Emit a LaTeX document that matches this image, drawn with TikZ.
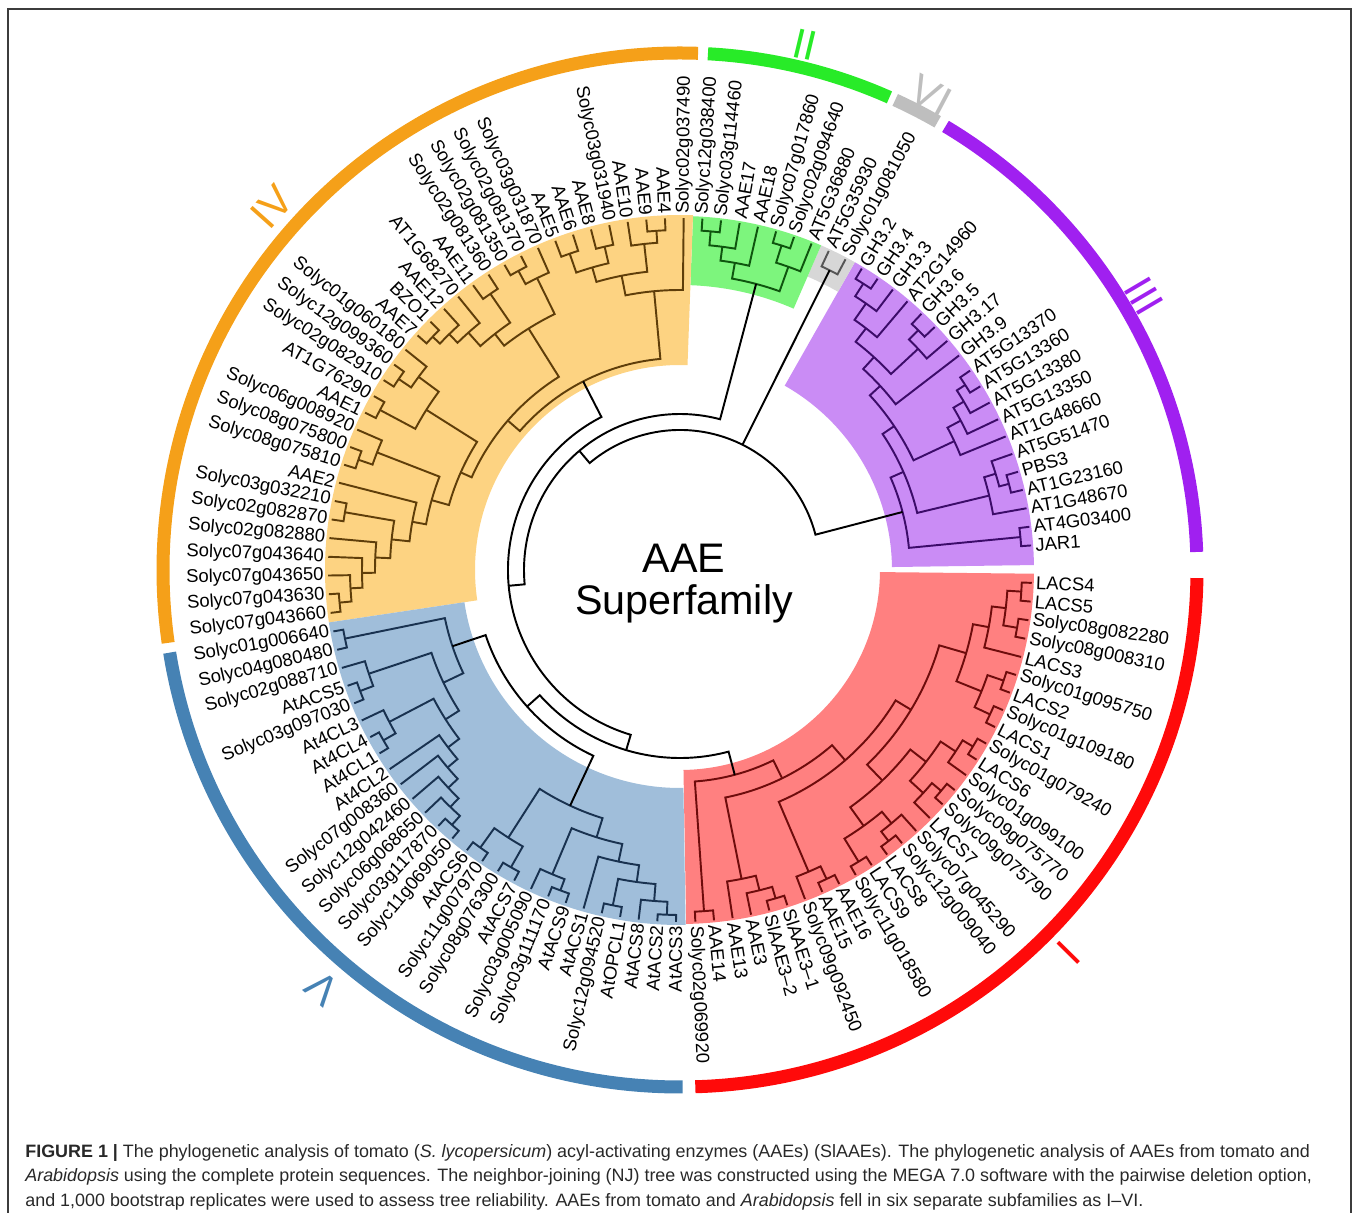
\documentclass[tikz,border=0pt]{standalone}
\usepackage{fontspec}
\setmainfont{Liberation Sans}
\usepackage{tikz}
\definecolor{OrangeBar}{RGB}{245,160,25}
\definecolor{OrangeShade}{RGB}{253,211,130}
\definecolor{OrangeLine}{RGB}{95,62,10}
\definecolor{GreenBar}{RGB}{40,235,40}
\definecolor{GreenShade}{RGB}{125,245,125}
\definecolor{GreenLine}{RGB}{15,85,15}
\definecolor{GreyBar}{RGB}{190,190,190}
\definecolor{GreyShade}{RGB}{215,215,215}
\definecolor{GreyLine}{RGB}{85,85,85}
\definecolor{PurpleBar}{RGB}{160,32,240}
\definecolor{PurpleShade}{RGB}{202,140,245}
\definecolor{PurpleLine}{RGB}{60,12,105}
\definecolor{RedBar}{RGB}{255,10,10}
\definecolor{RedShade}{RGB}{255,128,128}
\definecolor{RedLine}{RGB}{110,12,12}
\definecolor{BlueBar}{RGB}{70,130,180}
\definecolor{BlueShade}{RGB}{160,190,218}
\definecolor{BlueLine}{RGB}{25,50,80}
\definecolor{FrameGrey}{RGB}{60,60,60}
\definecolor{CaptionGrey}{RGB}{40,40,40}

% leaf slot -> angle
\newcommand\slotang[1]{-87.5+3.05*(#1)}
% child A (slot, radius), child B (slot, radius), arc radius
\newcommand\branchfork[5]{%
  \draw ({\slotang{#1}}:#2) -- ({\slotang{#1}}:#5)
    arc[start angle={\slotang{#1}}, end angle={\slotang{#3}}, radius=#5]
    -- ({\slotang{#3}}:#4);}
\newcommand\cladeshade[5]{%
  \fill[#1] (#2:#4) arc[start angle=#2, end angle=#3, radius=#4]
    -- (#3:#5) arc[start angle=#3, end angle=#2, radius=#5] -- cycle;}
\newcommand\cladering[3]{%
  \draw[ring, #1] (#2:517) arc[start angle=#2, end angle=#3, radius=517];}

\begin{document}
\begin{tikzpicture}[
  x=0.02cm, y=0.02cm,
  leafR/.style={anchor=west, inner sep=0.6pt, font=\fontsize{10.5}{12}\selectfont},
  leafL/.style={anchor=east, inner sep=0.6pt, font=\fontsize{10.5}{12}\selectfont},
  branch/.style={line width=1.1pt},
  ring/.style={line width=7.4pt},
  numeral/.style={inner sep=0pt, font=\fontsize{24}{26}\selectfont},
  centre/.style={anchor=base, inner sep=0pt, font=\fontsize{23.5}{26}\selectfont},
  caption/.style={anchor=north west, align=left, inner sep=0pt, text=CaptionGrey,
    font=\fontsize{10.2}{14}\selectfont}
]
\useasboundingbox (-680,-643) rectangle (679,570);
\draw[line width=1.1pt, FrameGrey] (-672,-660) -- (-672,561) -- (671,561) -- (671,-660);

\cladeshade{RedShade}{-89}{-0.6}{200}{354}
\cladeshade{PurpleShade}{0.8}{60.4}{212}{354}
\cladeshade{GreyShade}{60.4}{66.5}{320}{354}
\cladeshade{GreenShade}{66.5}{87.9}{285}{354}
\cladeshade{OrangeShade}{87.9}{188.5}{205}{355}
\cladeshade{BlueShade}{188.5}{270.9}{218}{355}

\cladering{RedBar}{-88.3}{-0.9}
\cladering{PurpleBar}{2.0}{59.1}
\cladering{GreyBar}{60.1}{65.4}
\cladering{GreenBar}{66.1}{86.9}
\cladering{OrangeBar}{88.0}{188.1}
\cladering{BlueBar}{189.2}{270.3}

\node[numeral, text=RedBar, rotate=-134.6] (numI) at (-44.6:546) {I};
\node[numeral, text=GreenBar, rotate=-13.4] (numII) at (76.6:540) {II};
\node[numeral, text=PurpleBar, rotate=-59.5] (numIII) at (30.5:539) {III};
\node[numeral, text=OrangeBar, rotate=48.3] (numIV) at (138.3:546) {IV};
\node[numeral, text=BlueBar, rotate=139.5] (numV) at (229.5:550) {V};
\node[numeral, text=GreyBar, rotate=-27.9] (numVI) at (62.1:537) {VI};

\begin{scope}[branch, color=RedLine]
\foreach \pa/\ra/\pb/\rb/\r in {0/352/1/352/342, 4/352/5/352/342, 3/352/4.5/342/330,
  2/352/3.75/330/315, 7/352/8/352/342, 6/352/7.5/342/328, 9/352/10/352/342,
  11/352/12/352/342, 11.5/342/13/352/330, 9.5/342/12.25/330/315, 15/352/16/352/342,
  14/352/15.5/342/330, 18/352/19/352/342, 17/352/18.5/342/330, 14.75/330/17.75/330/312,
  10.875/315/16.25/312/292, 27/352/28/352/342, 25/352/26/352/342, 25.5/342/27.5/342/328,
  24/352/26.5/328/314, 22/352/23/352/342, 20/352/21/352/342, 20.5/342/22.5/342/325,
  21.5/325/25.25/314/298, 13.5625/292/23.375/298/270, 6.75/328/18.469/270/252,
  2.875/315/12.609/252/232, 0.5/342/7.742/232/212}
  {\branchfork{\pa}{\ra}{\pb}{\rb}{\r}}
\end{scope}

\begin{scope}[branch, color=PurpleLine]
\foreach \pa/\ra/\pb/\rb/\r in {30/352/31/352/342, 33/352/34/352/340, 33.5/340/35/352/330,
  32/352/34.25/330/318, 39/352/40/352/340, 38/352/39.5/340/330, 37/352/38.75/330/318,
  36/352/37.875/318/303, 43/352/44/352/338, 42/352/43.5/338/325, 47/352/48/352/340,
  46/352/47.5/340/325, 45/352/46.75/325/305, 42.75/325/45.875/305/288,
  41/352/44.3125/288/272, 36.9375/303/42.65625/272/258, 33.125/318/39.797/258/244,
  30.5/342/36.461/244/230}
  {\branchfork{\pa}{\ra}{\pb}{\rb}{\r}}
\end{scope}

\begin{scope}[branch, color=GreyLine]
\branchfork{49}{352}{50}{352}{335}
\end{scope}

\begin{scope}[branch, color=GreenLine]
\foreach \pa/\ra/\pb/\rb/\r in {56/352/57/352/340, 55/352/56.5/340/326, 54/352/55.75/326/312,
  52/352/53/352/340, 51/352/52.5/340/322, 51.75/322/54.875/312/296}
  {\branchfork{\pa}{\ra}{\pb}{\rb}{\r}}
\end{scope}

\begin{scope}[branch, color=OrangeLine]
\foreach \pa/\ra/\pb/\rb/\r in {59/352/60/352/340, 59.5/340/61/352/328, 62/352/63/352/332,
  64/352/65/352/335, 62.5/332/64.5/335/315, 60.25/328/63.5/315/300, 58/352/61.875/300/280,
  67/352/68/352/340, 66/352/67.5/340/325, 73/352/74/352/340, 72/352/73.5/340/330,
  71/352/72.75/330/318, 69/352/70/352/335, 69.5/335/71.875/318/300,
  66.75/325/70.6875/300/285, 76/352/77/352/340, 75/352/76.5/340/325, 78/352/79/352/340,
  75.75/325/78.5/340/300, 81/352/82/352/340, 80/352/81.5/340/325, 84/352/85/352/340,
  89/352/90/352/342, 88/352/89.5/342/330, 87/352/88.75/330/318, 86/352/87.875/318/305,
  84.5/340/86.9375/305/290, 83/352/85.719/290/272, 80.75/325/84.359/272/258,
  77.125/300/82.555/258/240, 68.719/285/79.84/240/228, 59.9375/280/74.279/228/212}
  {\branchfork{\pa}{\ra}{\pb}{\rb}{\r}}
\end{scope}

\begin{scope}[branch, color=BlueLine]
\foreach \pa/\ra/\pb/\rb/\r in {91/352/92/352/342, 94/352/95/352/342, 93/352/94.5/342/328,
  97/352/98/352/342, 96/352/97.5/342/328, 103/352/104/352/342, 102/352/103.5/342/330,
  101/352/102.75/330/318, 100/352/101.875/318/305, 99/352/100.9375/305/292,
  96.75/328/99.969/292/278, 93.75/328/98.359/278/262, 91.5/342/96.055/262/240,
  105/352/106/352/342, 107/352/108/352/342, 105.5/342/107.5/342/318, 110/352/111/352/342,
  109/352/110.5/342/330, 113/352/114/352/342, 116/352/117/352/345, 115/352/116.5/345/332,
  113.5/342/115.75/332/315, 112/352/114.625/315/298, 109.75/330/113.3125/298/280,
  106.5/318/111.531/280/260}
  {\branchfork{\pa}{\ra}{\pb}{\rb}{\r}}
\end{scope}

\begin{scope}[branch, color=black]
\foreach \pa/\ra/\pb/\rb/\r in {93.777/240/109.016/260/205, 101.396/205/122.121/212/188,
  67.108/212/111.759/188/172, 53.3125/296/89.433/172/156, 33.48/230/71.373/156/140}
  {\branchfork{\pa}{\ra}{\pb}{\rb}{\r}}
\draw ({\slotang{49.5}}:335) -- ({\slotang{49.5}}:140);
\end{scope}

\foreach \p/\t in {0/Solyc02g069920, 1/AAE14, 2/AAE13, 3/AAE3, 4/SlAAE3–2, 5/SlAAE3–1,
  6/Solyc09g092450, 7/AAE15, 8/AAE16, 9/Solyc11g018580, 10/LACS9, 11/LACS8,
  12/Solyc12g009040, 13/Solyc07g045290, 14/LACS7, 15/Solyc09g075790, 16/Solyc09g075770,
  17/Solyc01g099100, 18/LACS6, 19/Solyc01g079240, 20/LACS1, 21/Solyc01g109180, 22/LACS2,
  23/Solyc01g095750, 24/LACS3, 25/Solyc08g008310, 26/Solyc08g082280, 27/LACS5, 28/LACS4,
  30/JAR1, 31/AT4G03400, 32/AT1G48670, 33/AT1G23160, 34/PBS3, 35/AT5G51470, 36/AT1G48660,
  37/AT5G13350, 38/AT5G13380, 39/AT5G13360, 40/AT5G13370, 41/GH3.9, 42/GH3.17, 43/GH3.5,
  44/GH3.6, 45/AT2G14960, 46/GH3.3, 47/GH3.4, 48/GH3.2, 49/Solyc01g081050, 50/AT5G35930,
  51/AT5G36880, 52/Solyc02g094640, 53/Solyc07g017860, 54/AAE18, 55/AAE17,
  56/Solyc03g114460, 57/Solyc12g038400, 58/Solyc02g037490}
  \node[leafR, rotate={\slotang{\p}}] (l\p) at ({\slotang{\p}}:355) {\t};

\foreach \p/\t in {59/AAE4, 60/AAE9, 61/AAE10, 62/Solyc03g031940, 63/AAE8, 64/AAE6, 65/AAE5,
  66/Solyc03g031870, 67/Solyc02g081370, 68/Solyc02g081350, 69/Solyc02g081360, 70/AAE11,
  71/AT1G68270, 72/AAE12, 73/BZO1, 74/AAE7, 75/Solyc01g060180, 76/Solyc12g099360,
  77/Solyc02g082910, 78/AT1G76290, 79/AAE1, 80/Solyc06g008920, 81/Solyc08g075800,
  82/Solyc08g075810, 83/AAE2, 84/Solyc03g032210, 85/Solyc02g082870, 86/Solyc02g082880,
  87/Solyc07g043640, 88/Solyc07g043650, 89/Solyc07g043630, 90/Solyc07g043660,
  91/Solyc01g006640, 92/Solyc04g080480, 93/Solyc02g088710, 94/AtACS5, 95/Solyc03g097030,
  96/At4CL3, 97/At4CL4, 98/At4CL1, 99/At4CL2, 100/Solyc07g008360, 101/Solyc12g042460,
  102/Solyc06g068650, 103/Solyc03g117870, 104/Solyc11g069050, 105/AtACS6,
  106/Solyc11g007970, 107/Solyc08g076300, 108/AtACS7, 109/Solyc03g005090,
  110/Solyc03g111170, 111/AtACS9, 112/AtACS1, 113/Solyc12g094520, 114/AtOPCL1,
  115/AtACS8, 116/AtACS2, 117/AtACS3}
  \node[leafL, rotate={\slotang{\p}-180}] (l\p) at ({\slotang{\p}}:355) {\t};

\node[centre] (aae) at (4,-3) {AAE};
\node[centre] (superfamily) at (4,-45) {Superfamily};

\node[caption] (caption) at (-655,-574) {\textbf{FIGURE 1 |} The phylogenetic analysis of tomato (\textit{S. lycopersicum}) acyl-activating enzymes (AAEs) (SlAAEs). The phylogenetic analysis of AAEs from tomato and\\
\textit{Arabidopsis} using the complete protein sequences. The neighbor-joining (NJ) tree was constructed using the MEGA 7.0 software with the pairwise deletion option,\\
and 1,000 bootstrap replicates were used to assess tree reliability. AAEs from tomato and \textit{Arabidopsis} fell in six separate subfamilies as I–VI.};
\end{tikzpicture}
\end{document}
